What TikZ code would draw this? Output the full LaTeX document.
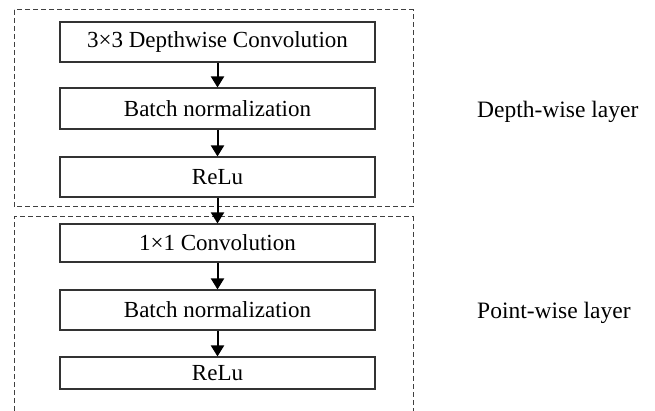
\documentclass[tikz,border=0pt]{standalone}
\usepackage{fontspec}
\setmainfont{Liberation Serif}
\usetikzlibrary{arrows.meta}
\begin{document}
\begin{tikzpicture}[x=1pt,y=-1pt,
  blk/.style={draw=black!80, line width=1.1pt, minimum width=315pt, inner sep=0pt, font=\fontsize{23}{26}\selectfont},
  frame/.style={draw=black!75, line width=1pt, dash pattern=on 5pt off 3pt},
  flow/.style={line width=2pt, -{Triangle[length=11pt,width=13pt]}},
  lbl/.style={anchor=west, inner sep=0pt, font=\fontsize{23.5}{26}\selectfont}]
\useasboundingbox (0,0) rectangle (655,411);
\draw[frame] (14,10) rectangle (413,207);
\draw[frame] (14,411) -- (14,217) -- (413,217) -- (413,411);
\node[blk, minimum height=40pt] (a) at (217.5,42) {3×3 Depthwise Convolution};
\node[blk, minimum height=41pt] (b) at (217.5,108.5) {Batch normalization};
\node[blk, minimum height=40pt] (c) at (217.5,177) {ReLu};
\node[blk, minimum height=38pt] (d) at (217.5,243) {1×1 Convolution};
\node[blk, minimum height=40pt] (e) at (217.5,310) {Batch normalization};
\node[blk, minimum height=32pt] (f) at (217.5,373) {ReLu};
\draw[flow] (a) -- (b);
\draw[flow] (b) -- (c);
\draw[flow] (c) -- (d);
\draw[flow] (d) -- (e);
\draw[flow] (e) -- (f);
\node[lbl] (dl) at (477,112) {Depth-wise layer};
\node[lbl] (pl) at (477,313) {Point-wise layer};
\end{tikzpicture}
\end{document}
